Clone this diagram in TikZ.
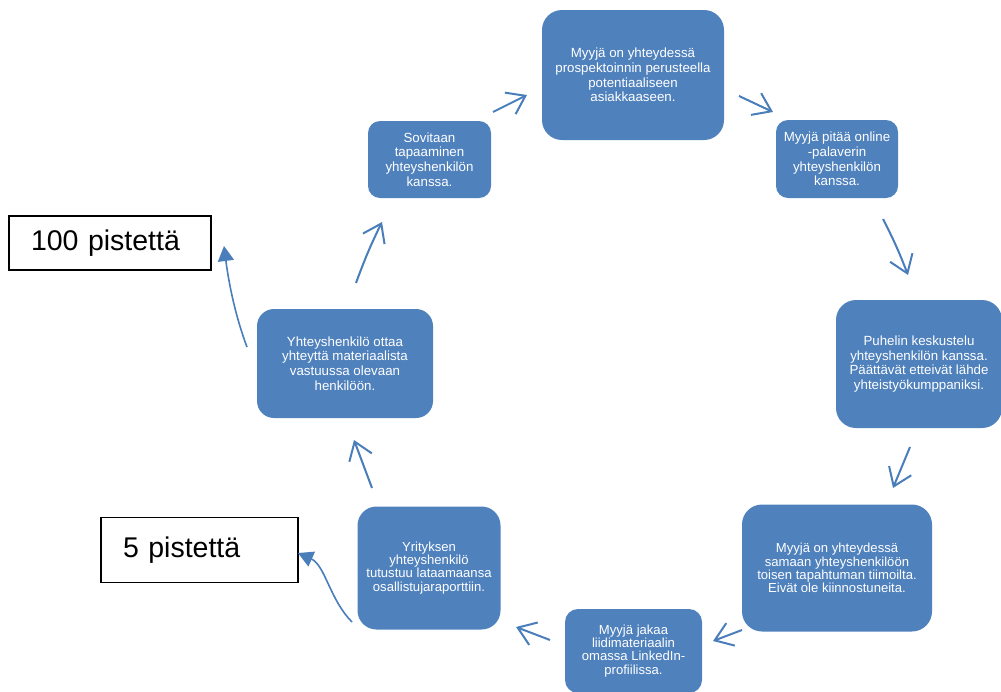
\documentclass[tikz,border=0pt]{standalone}
\usepackage{fontspec}
\setmainfont{Liberation Sans}
\usetikzlibrary{arrows.meta}
\definecolor{boxblue}{HTML}{4F81BD}
\definecolor{arrowblue}{HTML}{4A7EBB}
\tikzset{
  stage/.style={rectangle, rounded corners=#1, fill=boxblue, text=white,
    align=center, inner sep=0pt, font=\fontsize{13.3}{14.6}\selectfont},
  tight/.style={font=\fontsize{13.1}{13.2}\selectfont},
  score/.style={rectangle, draw=black, line width=1.3pt, fill=white,
    align=left, inner xsep=22pt, inner ysep=0pt,
    font=\fontsize{28.5}{32}\selectfont},
  flow/.style={draw=arrowblue, line width=2pt,
    -{Straight Barb[length=17pt,width=24pt]}},
  points/.style={draw=arrowblue, line width=1.6pt,
    -{Triangle[length=15pt,width=16pt]}}
}
\begin{document}
\begin{tikzpicture}[x=1pt,y=-1pt]
\useasboundingbox (0,0) rectangle (1001,691);

% process stages, clockwise from the top
\node[stage=20pt, minimum width=182pt, minimum height=130pt] (b1) at (633,75)
  {Myyjä on yhteydessä\\prospektoinnin perusteella\\potentiaaliseen\\asiakkaaseen.};
\node[stage=12pt, minimum width=122pt, minimum height=78pt] (b2) at (837,159)
  {Myyjä pitää online\\-palaverin\\yhteyshenkilön\\kanssa.};
\node[stage=20pt, minimum width=166pt, minimum height=128pt] (b3) at (919,364)
  {Puhelin keskustelu\\yhteyshenkilön kanssa.\\Päättävät etteivät lähde\\yhteistyökumppaniksi.};
\node[stage=20pt, tight, minimum width=190pt, minimum height=127pt] (b4) at (837,568)
  {Myyjä on yhteydessä\\samaan yhteyshenkilöön\\toisen tapahtuman tiimoilta.\\Eivät ole kiinnostuneita.};
\node[stage=13pt, tight, minimum width=137pt, minimum height=84pt] (b5) at (633.5,651)
  {Myyjä jakaa\\liidimateriaalin\\omassa LinkedIn-\\profiilissa.};
\node[stage=19pt, tight, minimum width=143pt, minimum height=123pt] (b6) at (429,568)
  {Yrityksen\\yhteyshenkilö\\tutustuu lataamaansa\\osallistujaraporttiin.};
\node[stage=17pt, minimum width=176pt, minimum height=109pt] (b7) at (345,363.5)
  {Yhteyshenkilö ottaa\\yhteyttä materiaalista\\vastuussa olevaan\\henkilöön.};
\node[stage=12pt, minimum width=123pt, minimum height=77pt] (b8) at (429.5,159.5)
  {Sovitaan\\tapaaminen\\yhteyshenkilön\\kanssa.};

% score labels
\node[score, text width=158pt, minimum height=54pt] (s100) at (110,243) {100 pistettä};
\node[score, text width=153pt, minimum height=65pt] (s5) at (199.5,550) {5 pistettä};

% ends of the cycle arrows
\coordinate (a1s) at (493,112); \coordinate (a1e) at (527,95);
\coordinate (a2s) at (739,96);  \coordinate (a2e) at (773,112);
\coordinate (a3s) at (883,219); \coordinate (a3e) at (908,275);
\coordinate (a4s) at (910,447); \coordinate (a4e) at (893,488);
\coordinate (a5s) at (742,630); \coordinate (a5e) at (713,641);
\coordinate (a6s) at (550,640); \coordinate (a6e) at (516,627);
\coordinate (a7s) at (372,488); \coordinate (a7e) at (354,440);
\coordinate (a8s) at (356,283); \coordinate (a8e) at (382,222);

\draw[flow] (a1s) -- (a1e);
\draw[flow] (a2s) -- (a2e);
\draw[flow] (a3s) to[bend left=3] (a3e);
\draw[flow] (a4s) -- (a4e);
\draw[flow] (a5s) -- (a5e);
\draw[flow] (a6s) -- (a6e);
\draw[flow] (a7s) -- (a7e);
\draw[flow] (a8s) to[bend left=3] (a8e);

% arrows to the scores
\coordinate (p1s) at (247,347); \coordinate (p1e) at (224,246);
\coordinate (p2s) at (352,622); \coordinate (p2e) at (298,553);
\draw[points] (p1s) .. controls (236,318) and (229,285) .. (p1e);
\draw[points] (p2s) .. controls (330,600) and (325,565) .. (p2e);
\end{tikzpicture}
\end{document}
